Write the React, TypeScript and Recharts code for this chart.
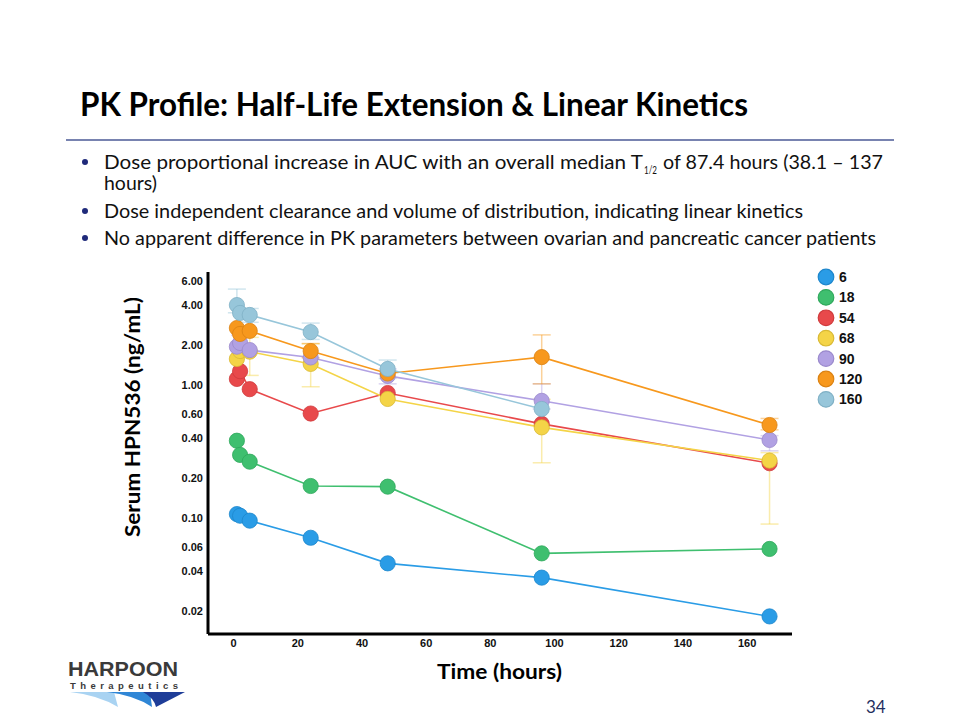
import { LineChart, Line, XAxis, YAxis, ErrorBar, Legend } from 'recharts'

// sampling times (hours) and dose cohorts
const hours = [1, 2, 5, 24, 48, 96, 167]
const doses = ['6', '18', '54', '68', '90', '120', '160']
const colors = ['#2a9ce6', '#3fbf6f', '#e8494b', '#f4d447', '#b1a1e3', '#f7981d', '#97c6da']
const edges = ['#1d86cc', '#2fa85c', '#cf3a3c', '#d9b934', '#9a89cc', '#db8212', '#7fb0c5']

// median serum concentration (ng/mL) per cohort
const dose6 = [0.107, 0.104, 0.0955, 0.071, 0.0456, 0.0356, 0.0182]
const dose18 = [0.381, 0.298, 0.265, 0.174, 0.172, 0.0542, 0.0585]
const dose54 = [1.11, 1.27, 0.93, 0.61, 0.87, 0.51, 0.258]
const dose68 = [1.57, 1.8, 1.78, 1.44, 0.785, 0.48, 0.27]
const dose90 = [1.94, 2.07, 1.83, 1.61, 1.17, 0.76, 0.386]
const dose120 = [2.68, 2.42, 2.55, 1.8, 1.22, 1.62, 0.5]
const dose160 = [3.99, 3.48, 3.36, 2.5, 1.32, 0.66, null]

// [below, above] error spans
const err68 = [null, null, [0.6, 0.5], [0.47, 0.6], null, [0.22, 0.3], [0.18, 0.04]]
const err90 = [null, [0.3, 0.3], null, null, [0.15, 0.15], [0.1, 0.26], [0.066, 0.03]]
const err120 = [null, null, null, [0.2, 0.25], null, [0.6, 0.76], [0.04, 0.06]]
const err160 = [[0.5, 1.27], null, [0.4, 0.4], [0.3, 0.42], [0.2, 0.22], null, null]

const xTicks = [0, 20, 40, 60, 80, 100, 120, 140, 160]
const yTicks = [0.02, 0.04, 0.06, 0.1, 0.2, 0.4, 0.6, 1, 2, 4, 6]

const series = [dose6, dose18, dose54, dose68, dose90, dose120, dose160]
const errors = [null, null, null, err68, err90, err120, err160]

const rows = hours.map((t, i) => {
  const row: any = { t }
  doses.forEach((d, k) => {
    row['d' + d] = series[k][i]
    const e = errors[k]
    if (e && e[i]) row['e' + d] = e[i]
  })
  return row
})

const tickFont = { fontFamily: 'Liberation Sans, Arial, sans-serif', fontWeight: 700, fontSize: 11, fill: '#111' }
const textFont = 'Lato, Calibri, sans-serif'

const LegendBox = () => (
  <svg width={70} height={140}>
    {doses.map((d, i) => (
      <g key={d}>
        <circle cx={11} cy={9 + i * 20.4} r={7.8} fill={colors[i]} stroke={edges[i]} strokeWidth={1.2} />
        <text x={24} y={14 + i * 20.4} style={{ fontFamily: 'Liberation Sans, Arial, sans-serif', fontWeight: 700, fontSize: 14 }} fill="#111">
          {d}
        </text>
      </g>
    ))}
  </svg>
)

const Slide = () => (
  <svg width={960} height={720} style={{ position: 'absolute', left: 0, top: 0 }}>
    <text x={80} y={116} textLength={668} lengthAdjust="spacingAndGlyphs" style={{ fontFamily: textFont, fontWeight: 700, fontSize: 32 }} fill="#000">
      PK Profile: Half-Life Extension &amp; Linear Kinetics
    </text>
    <line x1={66} x2={894} y1={140} y2={140} stroke="#4b5a96" strokeWidth={1.5} />
    <g style={{ fontFamily: textFont, fontSize: 19 }} fill="#111">
      <circle cx={85} cy={162} r={3} fill="#1f2a7a" />
      <circle cx={85} cy={211} r={3} fill="#1f2a7a" />
      <circle cx={85} cy={238} r={3} fill="#1f2a7a" />
      <text x={104} y={169} textLength={539} lengthAdjust="spacingAndGlyphs">Dose proportional increase in AUC with an overall median T</text>
      <text x={644} y={174} textLength={13} lengthAdjust="spacingAndGlyphs" style={{ fontSize: 11 }}>1/2</text>
      <text x={663} y={169} textLength={220} lengthAdjust="spacingAndGlyphs">of 87.4 hours (38.1 – 137</text>
      <text x={104} y={190} textLength={53} lengthAdjust="spacingAndGlyphs">hours)</text>
      <text x={104} y={218} textLength={699} lengthAdjust="spacingAndGlyphs">Dose independent clearance and volume of distribution, indicating linear kinetics</text>
      <text x={104} y={245} textLength={772} lengthAdjust="spacingAndGlyphs">No apparent difference in PK parameters between ovarian and pancreatic cancer patients</text>
    </g>
    <text transform="translate(140 417) rotate(-90)" textAnchor="middle" textLength={240} lengthAdjust="spacingAndGlyphs" style={{ fontFamily: textFont, fontWeight: 700, fontSize: 20 }} fill="#000">
      Serum HPN536 (ng/mL)
    </text>
    <text x={437} y={679} textLength={125} lengthAdjust="spacingAndGlyphs" style={{ fontFamily: textFont, fontWeight: 700, fontSize: 20 }} fill="#000">
      Time (hours)
    </text>
    <text x={866} y={713} style={{ fontFamily: textFont, fontSize: 17 }} fill="#1f2f5f">34</text>
    <g>
      <text x={68} y={676} textLength={110} lengthAdjust="spacingAndGlyphs" style={{ fontFamily: 'Liberation Sans, Arial, sans-serif', fontWeight: 700, fontSize: 21 }} fill="#3a3a3a">
        HARPOON
      </text>
      <text x={70} y={689} textLength={108} lengthAdjust="spacing" style={{ fontFamily: 'Liberation Sans, Arial, sans-serif', fontWeight: 700, fontSize: 9.5 }} fill="#3a3a3a">
        Therapeutics
      </text>
      <path d="M70,692 L114,692 L118,707 Q98,695 70,692 Z" fill="#a9d3f2" />
      <path d="M107,692 L150,692 L152,707 Q134,695 107,692 Z" fill="#2f86d6" />
      <path d="M143,692 L185,692 L156,707 Q154,698 143,692 Z" fill="#1e3d98" />
    </g>
  </svg>
)

const App = () => (
  <div style={{ position: 'absolute', left: 0, top: 0, width: 960, height: 720, background: '#fff' }}>
    <Slide />
    <div style={{ position: 'absolute', left: 0, top: 0 }}>
      <LineChart width={960} height={720} data={rows} margin={{ top: 272, right: 168, bottom: 56, left: 168 }}>
        <XAxis
          type="number"
          dataKey="t"
          domain={[-8, 174]}
          ticks={xTicks}
          height={30}
          tickLine={false}
          tickSize={0}
          tickMargin={5}
          axisLine={{ stroke: '#000', strokeWidth: 3 }}
          tick={tickFont}
          allowDataOverflow
        />
        <YAxis
          type="number"
          scale="log"
          domain={[0.01342, 7.07]}
          ticks={yTicks}
          width={40}
          tickLine={false}
          tickSize={0}
          tickMargin={5}
          axisLine={{ stroke: '#000', strokeWidth: 3 }}
          tick={tickFont}
          tickFormatter={(v: number) => v.toFixed(2)}
          allowDataOverflow
        />
        <Legend
          layout="horizontal"
          verticalAlign="middle"
          align="center"
          wrapperStyle={{ position: 'absolute', left: 815, top: 268, width: 70, height: 140 }}
          content={() => <LegendBox />}
        />
        {doses.map((d, i) => (
          <Line
            key={d}
            dataKey={'d' + d}
            name={d}
            stroke={colors[i]}
            strokeWidth={1.6}
            dot={{ r: 7.6, fill: colors[i], stroke: edges[i], strokeWidth: 0.8, fillOpacity: 1 }}
            activeDot={false}
            isAnimationActive={false}
          >
            {errors[i] && (
              <ErrorBar dataKey={'e' + d} direction="y" width={9} stroke={colors[i]} strokeOpacity={0.45} strokeWidth={1.5} />
            )}
          </Line>
        ))}
      </LineChart>
    </div>
  </div>
)

export default App
